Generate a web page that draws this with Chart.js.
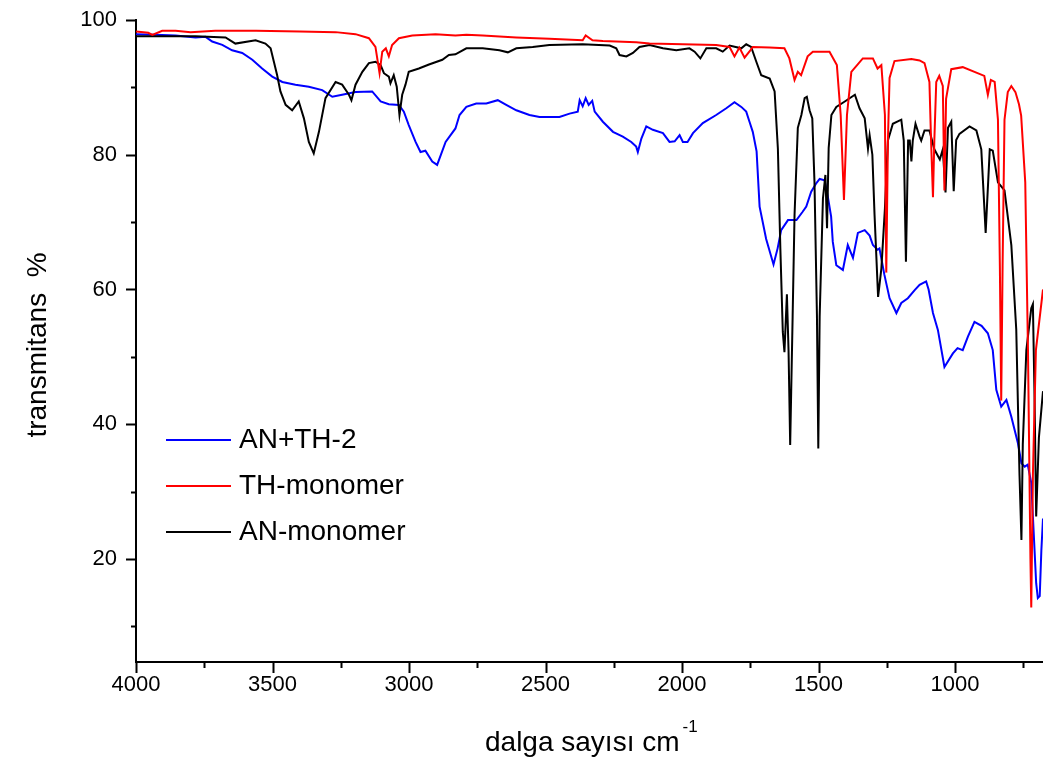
<!DOCTYPE html>
<html lang="tr">
<head>
    <meta charset="UTF-8">
    <title>IR spektrumu</title>
    <script src="https://cdn.jsdelivr.net/npm/chart.js"></script>
    <style>
        body {
            margin: 0;
            background: #fff;
        }
        canvas {
            display: block;
        }
    </style>
</head>
<body>
    <canvas id="spectrum" width="1043" height="762"></canvas>

    <script>
        // AN+TH-2
        const wnBlend = [
            4000, 3929, 3855, 3782, 3745, 3721, 3684, 3648, 3611, 3574,
            3538, 3501, 3464, 3416, 3367, 3318, 3281, 3245, 3196, 3135,
            3104, 3074, 3037, 3019, 3001, 2976, 2958, 2940, 2915, 2897,
            2866, 2830, 2815, 2790, 2754, 2717, 2675, 2644, 2607, 2559,
            2522, 2449, 2412, 2382, 2375, 2364, 2353, 2342, 2329, 2320,
            2290, 2253, 2217, 2186, 2168, 2162, 2149, 2131, 2107, 2070,
            2046, 2027, 2009, 1997, 1980, 1960, 1924, 1875, 1838, 1808,
            1783, 1765, 1753, 1741, 1727, 1716, 1692, 1665, 1650, 1637,
            1612, 1581, 1559, 1545, 1527, 1508, 1496, 1478, 1467, 1454,
            1448, 1435, 1411, 1393, 1374, 1356, 1331, 1313, 1301, 1284,
            1277, 1259, 1252, 1240, 1215, 1197, 1173, 1148, 1130, 1106,
            1097, 1081, 1063, 1039, 1008, 991, 972, 953, 929, 903,
            880, 862, 849, 831, 812, 794, 770, 757, 745, 734,
            721, 715, 703, 697, 690, 684, 678
        ];
        const tBlend = [
            97.9, 97.8, 97.7, 97.4, 97.5, 96.8, 96.3, 95.5, 95.1, 94.1,
            92.8, 91.6, 90.8, 90.4, 90.1, 89.6, 88.6, 88.9, 89.3, 89.4,
            87.9, 87.5, 87.4, 86.4, 84.4, 81.9, 80.4, 80.6, 79.0, 78.5,
            81.9, 83.9, 85.9, 87.1, 87.6, 87.6, 88.1, 87.4, 86.6, 85.9,
            85.6, 85.6, 86.1, 86.4, 88.1, 87.2, 88.4, 87.4, 88.0, 86.4,
            84.9, 83.4, 82.7, 81.9, 81.2, 80.4, 82.4, 84.2, 83.7, 83.2,
            81.9, 82.0, 82.9, 81.9, 81.9, 83.2, 84.7, 85.9, 86.9, 87.8,
            87.1, 86.4, 84.9, 83.4, 80.5, 72.3, 67.5, 63.7, 66.1, 68.8,
            70.3, 70.3, 71.5, 72.3, 74.5, 75.8, 76.4, 76.2, 74.0, 70.8,
            67.1, 63.6, 62.9, 66.6, 64.7, 68.4, 68.8, 68.0, 66.6, 65.9,
            66.1, 62.2, 60.9, 58.7, 56.5, 58.0, 58.7, 59.9, 60.7, 61.2,
            60.0, 56.5, 54.0, 48.5, 50.5, 51.3, 51.0, 53.0, 55.2, 54.6,
            53.5, 51.0, 45.1, 42.6, 43.6, 41.1, 37.2, 34.2, 33.7, 34.0,
            31.3, 26.3, 16.4, 14.2, 14.5, 21.3, 26.0
        ];

        // TH-monomer
        const wnTh = [
            4000, 3955, 3940, 3904, 3855, 3800, 3710, 3560, 3400, 3269,
            3196, 3147, 3123, 3108, 3098, 3085, 3074, 3062, 3037, 2988,
            2903, 2830, 2790, 2730, 2607, 2486, 2364, 2353, 2328, 2290,
            2168, 2119, 1997, 1875, 1826, 1808, 1790, 1771, 1750, 1741,
            1680, 1625, 1607, 1588, 1576, 1564, 1540, 1521, 1460, 1433,
            1419, 1407, 1396, 1380, 1338, 1301, 1284, 1270, 1257, 1252,
            1246, 1240, 1222, 1160, 1130, 1112, 1094, 1088, 1081, 1076,
            1069, 1058, 1045, 1039, 1033, 1014, 972, 911, 893, 880,
            869, 855, 843, 836, 831, 826, 819, 807, 794, 779,
            766, 758, 743, 733, 724, 721, 715, 704, 678
        ];
        const tTh = [
            98.3, 98.1, 97.8, 98.4, 98.4, 98.2, 98.4, 98.4, 98.3, 98.2,
            97.9, 97.3, 96.0, 92.1, 95.3, 95.8, 94.6, 96.3, 97.3, 97.7,
            97.9, 97.7, 97.8, 97.7, 97.4, 97.2, 97.0, 97.7, 97.0, 96.9,
            96.7, 96.5, 96.4, 96.3, 96.0, 94.6, 95.9, 94.4, 95.5, 96.0,
            95.9, 95.8, 94.3, 91.1, 92.3, 91.8, 94.6, 95.3, 95.3, 93.3,
            85.9, 73.3, 85.9, 92.3, 94.3, 94.3, 92.8, 93.3, 85.9, 62.5,
            82.1, 91.4, 93.9, 94.2, 94.0, 93.6, 90.8, 82.1, 73.7, 82.1,
            90.8, 91.7, 90.2, 74.7, 88.3, 92.7, 93.0, 92.0, 91.7, 88.9,
            91.1, 90.8, 85.2, 63.5, 43.5, 63.5, 85.2, 89.3, 90.2, 89.3,
            87.5, 85.8, 75.9, 51.0, 20.0, 12.8, 32.4, 51.0, 60.0
        ];

        // AN-monomer
        const wnAn = [
            4000, 3855, 3782, 3672, 3636, 3562, 3526, 3507, 3495, 3483,
            3471, 3452, 3428, 3404, 3385, 3367, 3349, 3330, 3306, 3269,
            3245, 3220, 3211, 3196, 3171, 3147, 3123, 3104, 3092, 3074,
            3068, 3056, 3045, 3035, 3025, 3013, 3001, 2964, 2927, 2878,
            2854, 2830, 2790, 2730, 2669, 2638, 2607, 2547, 2486, 2364,
            2265, 2241, 2229, 2204, 2180, 2156, 2119, 2070, 2021, 1973,
            1954, 1933, 1911, 1875, 1851, 1826, 1783, 1765, 1747, 1728,
            1710, 1679, 1661, 1649, 1640, 1631, 1625, 1616, 1610, 1604,
            1595, 1588, 1576, 1563, 1551, 1543, 1533, 1523, 1515, 1506,
            1501, 1496, 1484, 1475, 1469, 1463, 1453, 1435, 1404, 1367,
            1350, 1331, 1319, 1313, 1303, 1295, 1282, 1270, 1257, 1246,
            1228, 1197, 1188, 1180, 1172, 1166, 1160, 1155, 1145, 1130,
            1124, 1112, 1094, 1076, 1056, 1045, 1035, 1026, 1014, 1005,
            996, 984, 947, 922, 904, 888, 873, 862, 843, 819,
            794, 776, 764, 757, 752, 739, 721, 715, 709, 703,
            693, 678
        ];
        const tAn = [
            97.6, 97.6, 97.6, 97.4, 96.5, 97.0, 96.5, 95.8, 93.8, 91.8,
            89.4, 87.4, 86.6, 87.9, 85.4, 81.9, 80.2, 83.4, 88.4, 90.8,
            90.4, 88.9, 88.1, 90.4, 92.3, 93.6, 93.8, 93.3, 92.1, 91.6,
            90.6, 91.8, 90.1, 85.9, 88.9, 90.4, 92.3, 92.8, 93.4, 94.1,
            94.8, 94.9, 95.8, 95.8, 95.5, 95.2, 95.8, 96.0, 96.3, 96.4,
            96.2, 95.8, 94.8, 94.6, 95.1, 96.0, 96.3, 95.8, 95.5, 95.8,
            95.3, 94.3, 95.8, 95.8, 95.3, 96.2, 95.8, 96.4, 96.0, 93.8,
            91.8, 91.3, 89.4, 80.9, 66.1, 53.7, 50.7, 59.3, 51.0, 36.9,
            56.0, 71.1, 84.0, 85.9, 88.4, 88.6, 86.6, 85.4, 76.0, 56.2,
            36.4, 56.0, 73.5, 77.0, 69.1, 81.0, 85.9, 87.1, 87.9, 88.9,
            86.9, 85.4, 80.9, 82.9, 80.0, 71.1, 58.9, 63.1, 72.0, 82.1,
            84.6, 85.2, 82.1, 64.1, 82.1, 82.1, 79.0, 82.1, 84.6, 82.7,
            82.1, 83.6, 83.6, 80.8, 79.3, 80.8, 74.4, 84.0, 84.9, 74.6,
            82.2, 83.1, 84.2, 83.6, 80.8, 68.4, 80.8, 80.6, 75.9, 74.7,
            66.6, 54.1, 32.4, 22.8, 37.0, 51.0, 57.2, 57.8, 44.0, 26.3,
            38.0, 44.9
        ];

        const seriesNames = ['AN+TH-2', 'TH-monomer', 'AN-monomer'];
        const xTickValues = [4000, 3750, 3500, 3250, 3000, 2750, 2500, 2250, 2000, 1750, 1500, 1250, 1000, 750];
        const yTickValues = [10, 20, 30, 40, 50, 60, 70, 80, 90, 100];

        const FONT = "'Liberation Sans', Arial, sans-serif";

        function toPoints(xs, ys) {
            return xs.map((x, i) => ({ x: x, y: ys[i] }));
        }

        // tick marks, axis titles and the legend box are painted by hand
        const decor = {
            id: 'decor',
            afterDraw(chart) {
                const ctx = chart.ctx;
                const area = chart.chartArea;
                const sx = chart.scales.x;
                const sy = chart.scales.y;

                ctx.save();
                ctx.strokeStyle = '#000';
                ctx.lineWidth = 2;
                ctx.beginPath();
                yTickValues.forEach(v => {
                    const py = Math.round(sy.getPixelForValue(v)) + 0.5;
                    const len = v % 20 === 0 ? 10 : 5;
                    ctx.moveTo(area.left - len, py);
                    ctx.lineTo(area.left, py);
                });
                xTickValues.forEach(v => {
                    const px = Math.round(sx.getPixelForValue(v)) + 0.5;
                    const len = v % 500 === 0 ? 11 : 6;
                    ctx.moveTo(px, area.bottom);
                    ctx.lineTo(px, area.bottom + len);
                });
                ctx.stroke();

                // x title with superscript
                ctx.fillStyle = '#000';
                ctx.textAlign = 'left';
                ctx.textBaseline = 'alphabetic';
                ctx.font = '28px ' + FONT;
                const xt = 'dalga sayısı cm';
                ctx.fillText(xt, 485, 751);
                const w = ctx.measureText(xt).width;
                ctx.font = '17px ' + FONT;
                ctx.fillText('-1', 485 + w + 3, 732);

                // y title
                ctx.save();
                ctx.translate(38, 345);
                ctx.rotate(-Math.PI / 2);
                ctx.textAlign = 'center';
                ctx.textBaseline = 'middle';
                ctx.font = '28px ' + FONT;
                ctx.fillText('transmitans  %', 0, 0);
                ctx.restore();

                // legend
                ctx.font = '28px ' + FONT;
                ctx.textBaseline = 'middle';
                chart.data.datasets.forEach((ds, i) => {
                    const ly = 440 + i * 46;
                    ctx.strokeStyle = ds.borderColor;
                    ctx.lineWidth = 2;
                    ctx.beginPath();
                    ctx.moveTo(166, ly);
                    ctx.lineTo(231, ly);
                    ctx.stroke();
                    ctx.fillStyle = '#000';
                    ctx.fillText(ds.label, 239, ly);
                });
                ctx.restore();
            }
        };

        window.onload = function() {
            const ctx = document.getElementById('spectrum').getContext('2d');
            new Chart(ctx, {
                type: 'line',
                data: {
                    datasets: [
                        {
                            label: seriesNames[0],
                            data: toPoints(wnBlend, tBlend),
                            borderColor: '#0000ff',
                            order: 3
                        },
                        {
                            label: seriesNames[1],
                            data: toPoints(wnTh, tTh),
                            borderColor: '#ff0000',
                            order: 1
                        },
                        {
                            label: seriesNames[2],
                            data: toPoints(wnAn, tAn),
                            borderColor: '#000000',
                            order: 2
                        }
                    ]
                },
                options: {
                    responsive: false,
                    animation: false,
                    layout: {
                        padding: { top: 20, right: 0, bottom: 0, left: 0 }
                    },
                    elements: {
                        point: { radius: 0 },
                        line: { borderWidth: 2, tension: 0, fill: false }
                    },
                    plugins: {
                        legend: { display: false },
                        tooltip: { enabled: false }
                    },
                    scales: {
                        x: {
                            type: 'linear',
                            reverse: true,
                            min: 678,
                            max: 4000,
                            afterBuildTicks: s => { s.ticks = xTickValues.map(v => ({ value: v })); },
                            afterFit: s => { s.height = 100; s.paddingRight = 0; },
                            grid: { display: true, drawOnChartArea: false, drawTicks: false },
                            border: { display: true, color: '#000', width: 2 },
                            ticks: {
                                autoSkip: false,
                                maxRotation: 0,
                                padding: 10,
                                color: '#000',
                                font: { family: FONT, size: 22 },
                                callback: v => (v % 500 === 0 ? String(v) : '')
                            }
                        },
                        y: {
                            min: 4.7,
                            max: 100,
                            afterBuildTicks: s => { s.ticks = yTickValues.map(v => ({ value: v })); },
                            afterFit: s => { s.width = 136; s.paddingTop = 0; s.paddingBottom = 0; },
                            grid: { display: true, drawOnChartArea: false, drawTicks: false },
                            border: { display: true, color: '#000', width: 2 },
                            ticks: {
                                padding: 19,
                                color: '#000',
                                font: { family: FONT, size: 22 },
                                callback: v => (v % 20 === 0 ? String(v) : '')
                            }
                        }
                    }
                },
                plugins: [decor]
            });
        };
    </script>
</body>
</html>
